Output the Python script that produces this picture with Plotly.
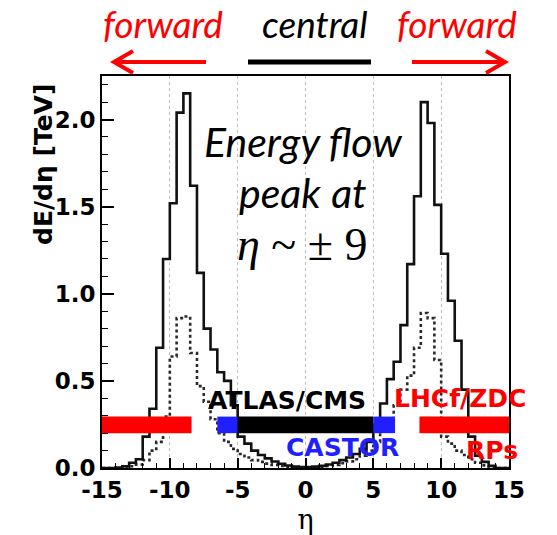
import plotly.graph_objects as go

# Pseudorapidity binning (bin edges, width 0.5)
bin_edges = [-15.0, -14.5, -14.0, -13.5, -13.0, -12.5, -12.0, -11.5, -11.0, -10.5,
             -10.0, -9.5, -9.0, -8.5, -8.0, -7.5, -7.0, -6.5, -6.0, -5.5,
             -5.0, -4.5, -4.0, -3.5, -3.0, -2.5, -2.0, -1.5, -1.0, -0.5,
             0.0, 0.5, 1.0, 1.5, 2.0, 2.5, 3.0, 3.5, 4.0, 4.5,
             5.0, 5.5, 6.0, 6.5, 7.0, 7.5, 8.0, 8.5, 9.0, 9.5,
             10.0, 10.5, 11.0, 11.5, 12.0, 12.5, 13.0, 13.5, 14.0, 14.5, 15.0]

# dE/deta per bin [TeV], solid histogram
energy_solid = [0.0, 0.0, 0.003, 0.01, 0.03, 0.05, 0.18, 0.34, 0.69, 1.20,
                1.52, 2.04, 2.15, 1.62, 1.12, 0.80, 0.68, 0.55, 0.50, 0.36,
                0.18, 0.14, 0.10, 0.075, 0.055, 0.037, 0.024, 0.014, 0.008, 0.005,
                0.005, 0.008, 0.012, 0.02, 0.03, 0.045, 0.06, 0.08, 0.11, 0.15,
                0.25, 0.37, 0.51, 0.61, 0.82, 1.17, 1.56, 2.10, 1.98, 1.51,
                1.23, 0.96, 0.73, 0.45, 0.18, 0.07, 0.035, 0.012, 0.0, 0.0]

# dE/deta per bin [TeV], dotted histogram
energy_dotted = [0.0, 0.0, 0.0, 0.003, 0.01, 0.02, 0.045, 0.10, 0.15, 0.295,
                 0.64, 0.86, 0.87, 0.66, 0.47, 0.38, 0.28, 0.20, 0.15, 0.11,
                 0.08, 0.06, 0.045, 0.035, 0.025, 0.018, 0.012, 0.008, 0.005, 0.003,
                 0.003, 0.005, 0.008, 0.012, 0.018, 0.027, 0.038, 0.05, 0.07, 0.10,
                 0.15, 0.22, 0.28, 0.36, 0.45, 0.53, 0.69, 0.89, 0.86, 0.62,
                 0.18, 0.14, 0.10, 0.075, 0.05, 0.03, 0.015, 0.005, 0.0, 0.0]

# Detector acceptance bands: (eta_min, eta_max, colour)
coverage_bands = [
    (-15.0, -8.4, "#ff0000"),   # LHCf/ZDC, RPs
    (-6.5, -5.0, "#1f1fff"),    # CASTOR
    (-5.0, 5.0, "#000000"),     # ATLAS/CMS
    (5.0, 6.6, "#1f1fff"),      # CASTOR
    (8.4, 15.0, "#ff0000"),     # LHCf/ZDC, RPs
]
band_y = (0.2, 0.295)

x_tickvals = [-15, -10, -5, 0, 5, 10, 15]
x_ticktext = ["-15", "-10", "-5", "0", "5", "10", "15"]
y_tickvals = [0.0, 0.5, 1.0, 1.5, 2.0]
y_ticktext = ["0.0", "0.5", "1.0", "1.5", "2.0"]

W, H = 557, 535
ML, MR, MT, MB = 102, 48, 76, 67
PW, PH = W - ML - MR, H - MT - MB


def px(xp):
    return (xp - ML) / PW


def py(yp):
    return (H - MB - yp) / PH


root_font = "DejaVu Sans"
fig = go.Figure()

fig.add_trace(go.Scatter(
    x=bin_edges, y=energy_dotted + [energy_dotted[-1]],
    mode="lines", line=dict(shape="hv", color="#2a2a2a", width=2.6, dash="dot"),
    showlegend=False, hoverinfo="skip"))
fig.add_trace(go.Scatter(
    x=bin_edges, y=energy_solid + [energy_solid[-1]],
    mode="lines", line=dict(shape="hv", color="#111111", width=2.6),
    showlegend=False, hoverinfo="skip"))

shapes = []
for x0, x1, col in coverage_bands:
    shapes.append(dict(type="rect", xref="x", yref="y", x0=x0, x1=x1,
                       y0=band_y[0], y1=band_y[1], fillcolor=col,
                       line=dict(width=0), layer="above"))

# forward / central indicators above the frame
ay = py(62)
shapes.append(dict(type="path", xref="paper", yref="paper",
                   path=f"M {px(206)},{ay} L {px(114)},{ay} M {px(133)},{py(51)} L {px(114)},{ay} L {px(133)},{py(73)}",
                   line=dict(color="#ff0000", width=4)))
shapes.append(dict(type="path", xref="paper", yref="paper",
                   path=f"M {px(412)},{ay} L {px(505)},{ay} M {px(486)},{py(51)} L {px(505)},{ay} L {px(486)},{py(73)}",
                   line=dict(color="#ff0000", width=4)))
shapes.append(dict(type="line", xref="paper", yref="paper",
                   x0=px(248), x1=px(371), y0=ay, y1=ay,
                   line=dict(color="#000000", width=5)))

annotations = []
top_font = "Lato"
for text, xc, col in [("forward", 163, "#ff0000"), ("central", 315, "#000000"),
                      ("forward", 457, "#ff0000")]:
    annotations.append(dict(text=f"<i>{text}</i>", xref="paper", yref="paper",
                            x=px(xc), y=py(24), showarrow=False,
                            xanchor="center", yanchor="middle",
                            font=dict(family=top_font, size=37, color=col)))

for text, yc in [("<i>Energy flow</i>", 141), ("<i>peak</i> <i>at</i>", 192)]:
    annotations.append(dict(text=text, xref="paper", yref="paper",
                            x=px(303), y=py(yc), showarrow=False,
                            xanchor="center", yanchor="middle",
                            font=dict(family=top_font, size=41, color="#000000")))
annotations.append(dict(text="<i>η</i> ~ ± 9", xref="paper", yref="paper",
                        x=px(302), y=py(244), showarrow=False,
                        xanchor="center", yanchor="middle",
                        font=dict(family="Liberation Serif", size=46, color="#000000")))

# detector labels
det_labels = [
    ("ATLAS/CMS", -1.33, 0.385, "#000000", "center"),
    ("CASTOR", 2.72, 0.118, "#1f1fff", "center"),
    ("LHCf/ZDC", 6.4, 0.397, "#ff0000", "left"),
    ("RPs", 13.78, 0.098, "#ff0000", "center"),
]
for text, xv, yv, col, anc in det_labels:
    annotations.append(dict(text=text, xref="x", yref="y", x=xv, y=yv,
                            showarrow=False, xanchor=anc, yanchor="middle",
                            font=dict(family=root_font, size=25, color=col, weight="bold")))

# y-axis title, aligned toward the top of the axis
annotations.append(dict(text="dE/dη [TeV]", xref="paper", yref="paper",
                        x=px(43), y=py(165), showarrow=False, textangle=-90,
                        xanchor="center", yanchor="middle",
                        font=dict(family=root_font, size=25, color="#000000", weight="bold")))

fig.update_layout(
    width=W, height=H,
    margin=dict(l=ML, r=MR, t=MT, b=MB, autoexpand=False),
    paper_bgcolor="white", plot_bgcolor="white",
    shapes=shapes, annotations=annotations,
    xaxis=dict(
        range=[-15, 15], tickvals=x_tickvals, ticktext=x_ticktext,
        automargin=False,
        ticks="inside", ticklen=10, tickwidth=1.5, tickcolor="black",
        showline=True, linecolor="black", linewidth=2, mirror=True,
        showgrid=True, gridcolor="#bdbdbd", griddash="dot", gridwidth=1,
        zeroline=False,
        tickfont=dict(family=root_font, size=23, color="#000000", weight="bold"),
        minor=dict(dtick=1, ticks="inside", ticklen=5, tickwidth=1.2,
                   tickcolor="black", showgrid=False),
        title=dict(text="η", standoff=9,
                   font=dict(family="DejaVu Serif", size=27, color="#000000")),
    ),
    yaxis=dict(
        range=[0, 2.25], tickvals=y_tickvals, ticktext=y_ticktext,
        automargin=False,
        ticks="inside", ticklen=12, tickwidth=1.5, tickcolor="black",
        showline=True, linecolor="black", linewidth=2, mirror=True,
        showgrid=False, zeroline=False,
        tickfont=dict(family=root_font, size=23, color="#000000", weight="bold"),
        minor=dict(dtick=0.1, ticks="inside", ticklen=6, tickwidth=1.2,
                   tickcolor="black", showgrid=False),
    ),
)

fig.write_html("out.html")
